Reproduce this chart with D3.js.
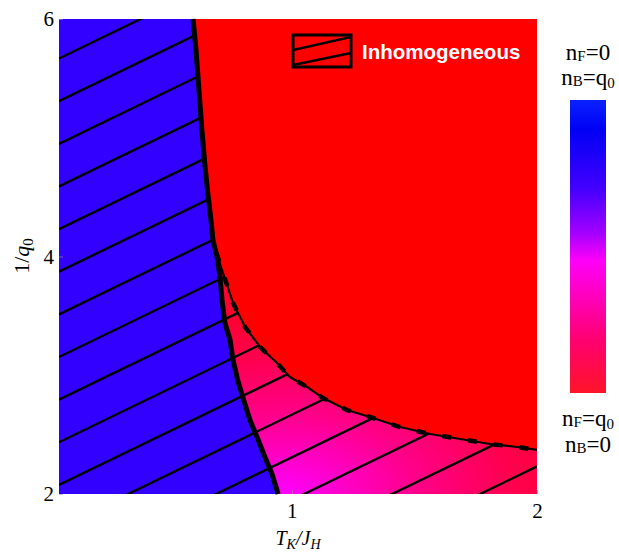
<!DOCTYPE html>
<html>
<head>
<meta charset="utf-8">
<script src="https://cdn.jsdelivr.net/npm/d3@7"></script>
<style>
body { margin: 0; background: #fff; }
text { font-family: "Liberation Serif", "Times New Roman", serif; }
</style>
</head>
<body>
<div id="chart"></div>
<script>
// thick phase boundary (blue phase on the left)
let boundaryX = [0.597, 0.609, 0.621, 0.633, 0.646, 0.658, 0.670, 0.678, 0.695, 0.707, 0.715,
                 0.727, 0.748, 0.760, 0.780, 0.801, 0.829, 0.858, 0.890, 0.919, 0.944];
let boundaryY = [6.0, 5.739, 5.402, 5.065, 4.754, 4.518, 4.307, 4.139, 3.996, 3.827, 3.634,
                 3.440, 3.297, 3.128, 2.952, 2.808, 2.623, 2.480, 2.312, 2.168, 2.0];

// dashed boundary of the inhomogeneous region
let inhomX = [0.692, 0.719, 0.760, 0.809, 0.870, 0.939, 0.992, 1.062, 1.127, 1.225, 1.331,
              1.441, 1.564, 1.686, 1.808, 1.919, 2.0];
let inhomY = [4.03, 3.861, 3.608, 3.406, 3.238, 3.103, 2.985, 2.901, 2.808, 2.707, 2.640,
              2.564, 2.505, 2.463, 2.421, 2.396, 2.371];

let xTicks = [1, 2];
let yTicks = [2, 4, 6];
let xDomain = [0.05, 2];
let yDomain = [2, 6];

// colours
let blue = "#3200ff",
    red = "#ff0000";
let mixStops = [[0, "#ff00ff"], [0.2, "#ff00c8"], [0.45, "#ff0088"], [0.75, "#ff0050"], [1, "#ff0030"]];
let barStops = [[0, "#0a22ff"], [0.1, "#0000f4"], [0.3, "#4200ff"], [0.45, "#a000ff"],
                [0.55, "#ff00f8"], [0.68, "#ff00b8"], [0.82, "#ff0070"], [1, "#ff1428"]];

let width = 619, height = 554;

let x = d3.scaleLinear().domain(xDomain).range([59, 537]);
let y = d3.scaleLinear().domain(yDomain).range([494, 19]);

let svg = d3.select("#chart").append("svg")
    .attr("width", width)
    .attr("height", height);

let defs = svg.append("defs");

let boundary = boundaryX.map((d, i) => [d, boundaryY[i]]);
let inhom = inhomX.map((d, i) => [d, inhomY[i]]);

let line = d3.line().x(d => x(d[0])).y(d => y(d[1]));

// regions
let upper = boundary.filter(d => d[1] > 4.0);
let lower = boundary.filter(d => d[1] <= 4.0);

let blueArea = [[xDomain[0], yDomain[1]]].concat(boundary, [[xDomain[0], yDomain[0]]]);
let mixArea = lower.concat([[xDomain[1], yDomain[0]]], inhom.slice().reverse());
let hatchArea = [[xDomain[0], yDomain[1]]].concat(upper, inhom,
    [[xDomain[1], yDomain[0]], [xDomain[0], yDomain[0]]]);

// gradient of the mixed region
let cx = x(0.97), cy = y(2);
let rg = defs.append("radialGradient")
    .attr("id", "mixGrad")
    .attr("gradientUnits", "userSpaceOnUse")
    .attr("cx", cx).attr("cy", cy).attr("r", 300)
    .attr("gradientTransform", "translate(" + cx + "," + cy + ") scale(1,0.6) translate(" + (-cx) + "," + (-cy) + ")");
rg.selectAll("stop").data(mixStops).enter().append("stop")
    .attr("offset", d => d[0])
    .attr("stop-color", d => d[1]);

defs.append("clipPath").attr("id", "hatchClip")
    .append("path").attr("d", line(hatchArea) + "Z");

// background = red phase
svg.append("rect")
    .attr("x", x(xDomain[0])).attr("y", y(yDomain[1]))
    .attr("width", x(xDomain[1]) - x(xDomain[0]))
    .attr("height", y(yDomain[0]) - y(yDomain[1]))
    .attr("fill", red);

svg.append("path").attr("d", line(blueArea) + "Z").attr("fill", blue);
svg.append("path").attr("d", line(mixArea) + "Z").attr("fill", "url(#mixGrad)");

// hatching of the inhomogeneous region: lines y = x + c
let hatchC = d3.range(-6, 13).map(k => 1.668 + 0.359 * k);
svg.append("g").attr("clip-path", "url(#hatchClip)")
    .selectAll("path")
    .data(hatchC).enter()
    .append("path")
    .attr("d", c => line([[xDomain[0], xDomain[0] + c], [xDomain[1], xDomain[1] + c]]))
    .attr("stroke", "#000")
    .attr("stroke-width", 2.4)
    .attr("fill", "none");

// thick boundary
svg.append("path")
    .attr("d", line(boundary))
    .attr("fill", "none")
    .attr("stroke", "#000")
    .attr("stroke-width", 5)
    .attr("stroke-linejoin", "round");

// dashed boundary: thin line with thick dashes
svg.append("path")
    .attr("d", line(inhom))
    .attr("fill", "none")
    .attr("stroke", "#000")
    .attr("stroke-width", 2.2);
svg.append("path")
    .attr("d", line(inhom))
    .attr("fill", "none")
    .attr("stroke", "#000")
    .attr("stroke-width", 4.5)
    .attr("stroke-dasharray", "9,17");

// legend
let lg = svg.append("g");
defs.append("clipPath").attr("id", "legClip")
    .append("rect").attr("x", 293).attr("y", 35).attr("width", 58).attr("height", 32);
lg.append("rect")
    .attr("x", 293).attr("y", 35).attr("width", 58).attr("height", 32)
    .attr("fill", red);
lg.append("g").attr("clip-path", "url(#legClip)")
    .selectAll("line")
    .data([[50, 37], [65, 53]]).enter()
    .append("line")
    .attr("x1", 293).attr("y1", d => d[0])
    .attr("x2", 351).attr("y2", d => d[1])
    .attr("stroke", "#000").attr("stroke-width", 2.5);
lg.append("rect")
    .attr("x", 293).attr("y", 35).attr("width", 58).attr("height", 32)
    .attr("fill", "none").attr("stroke", "#000").attr("stroke-width", 3);
lg.append("text")
    .attr("x", 362).attr("y", 59)
    .style("font-family", "'Liberation Sans', Arial, sans-serif")
    .style("font-weight", "bold")
    .style("font-size", "20.5px")
    .attr("fill", "#fff")
    .text("Inhomogeneous");

// axes
let xAxis = svg.append("g")
    .attr("transform", "translate(0," + y(yDomain[0]) + ")")
    .call(d3.axisBottom(x).tickValues(xTicks).tickFormat(d3.format("d")).tickSizeInner(-4).tickSizeOuter(0).tickPadding(9));
let yAxis = svg.append("g")
    .attr("transform", "translate(" + x(xDomain[0]) + ",0)")
    .call(d3.axisLeft(y).tickValues(yTicks).tickFormat(d3.format("d")).tickSizeInner(-4).tickSizeOuter(0).tickPadding(5));
[xAxis, yAxis].forEach(a => {
    a.select(".domain").remove();
    a.selectAll(".tick line").attr("stroke", "#999").attr("stroke-opacity", 0.6);
    a.selectAll(".tick text")
        .style("font-family", "'Liberation Serif', 'Times New Roman', serif")
        .style("font-size", "21px")
        .attr("fill", "#000");
});

// axis titles
let xt = svg.append("text")
    .attr("x", 298).attr("y", 545)
    .attr("text-anchor", "middle")
    .style("font-size", "20px")
    .style("font-style", "italic");
xt.append("tspan").text("T");
xt.append("tspan").attr("dy", 4).style("font-size", "14px").text("K");
xt.append("tspan").attr("dy", -4).text("/J");
xt.append("tspan").attr("dy", 4).style("font-size", "14px").text("H");

let yt = svg.append("text")
    .attr("transform", "translate(29,256) rotate(-90)")
    .attr("text-anchor", "middle")
    .style("font-size", "22px");
yt.append("tspan").text("1/");
yt.append("tspan").style("font-style", "italic").text("q");
yt.append("tspan").attr("dy", 4).style("font-size", "15px").text("0");

// colour bar
let lgGrad = defs.append("linearGradient")
    .attr("id", "barGrad")
    .attr("x1", 0).attr("y1", 0).attr("x2", 0).attr("y2", 1);
lgGrad.selectAll("stop").data(barStops).enter().append("stop")
    .attr("offset", d => d[0])
    .attr("stop-color", d => d[1]);
svg.append("rect")
    .attr("x", 570).attr("y", 100).attr("width", 36).attr("height", 293)
    .attr("fill", "url(#barGrad)");

function barLabel(yPos, sub, val, valSub) {
    let t = svg.append("text")
        .attr("x", 588).attr("y", yPos)
        .attr("text-anchor", "middle")
        .style("font-size", "23px");
    t.append("tspan").text("n");
    t.append("tspan").attr("dy", 1).style("font-size", "15px").text(sub);
    t.append("tspan").attr("dy", -1).text("=" + val);
    if (valSub) t.append("tspan").attr("dy", 3).style("font-size", "15px").text(valSub);
}
barLabel(60, "F", "0");
barLabel(85, "B", "q", "0");
barLabel(426, "F", "q", "0");
barLabel(452, "B", "0");
</script>
</body>
</html>
